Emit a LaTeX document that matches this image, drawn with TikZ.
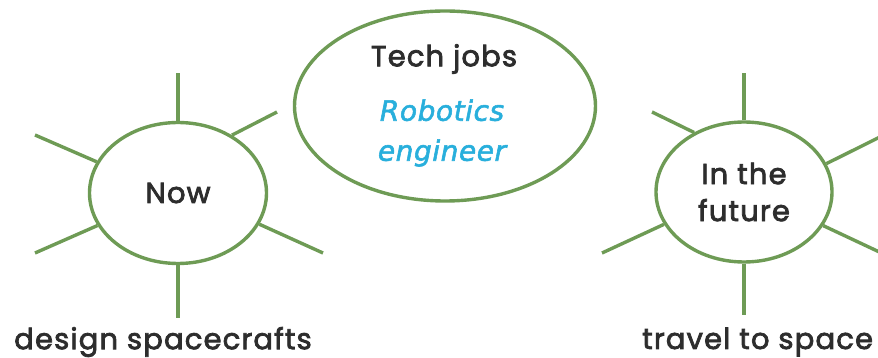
\documentclass[tikz,border=0pt]{standalone}
\usepackage{fontspec}
\setmainfont{Poppins}[LetterSpace=4, BoldFont=Poppins, BoldFeatures={FakeBold=2.6}]
\newfontfamily\handfont{DejaVu Sans}[LetterSpace=2, ItalicFeatures={FakeBold=2}]
\usetikzlibrary{shapes.geometric}
\definecolor{leaf}{RGB}{110,155,85}
\definecolor{ink}{RGB}{45,45,45}
\definecolor{sky}{RGB}{40,175,220}
\tikzset{
  bubble/.style={ellipse, draw=leaf, line width=3.4pt, fill=white, inner sep=0pt, text=ink, align=center},
  spoke/.style={draw=leaf, line width=3.4pt},
  lbl/.style={text=ink, font=\bfseries\fontsize{29}{30}\selectfont, inner sep=0pt}
}
\begin{document}
\begin{tikzpicture}[x=1pt,y=-1pt]
\useasboundingbox (0,0) rectangle (878,358);
\clip (0,0) rectangle (878,358);
% Now
\node[bubble, minimum width=177, minimum height=141, font=\bfseries\fontsize{29}{30}\selectfont] (now) at (178,193) {Now};
\coordinate (n1) at (178,73);
\coordinate (n2) at (35,135);
\coordinate (n3) at (277,112);
\coordinate (n4) at (35,253);
\coordinate (n5) at (323,253);
\coordinate (n6) at (178,318);
\draw[spoke] (now.90) -- (n1);
\draw[spoke] (now.159.5) -- (n2);
\draw[spoke] (now.47.5) -- (n3);
\draw[spoke] (now.202) -- (n4);
\draw[spoke] (now.339) -- (n5);
\draw[spoke] (now.270) -- (n6);
% Future
\node[bubble, minimum width=176, minimum height=140, font=\bfseries\fontsize{29}{37}\selectfont] (fut) at (744,192) {In the\\future};
\coordinate (f1) at (744,73);
\coordinate (f2) at (652,112);
\coordinate (f3) at (890,132);
\coordinate (f4) at (602,253);
\coordinate (f5) at (890,257);
\coordinate (f6) at (744,315);
\draw[spoke] (fut.90) -- (f1);
\draw[spoke] (fut.130.4) -- (f2);
\draw[spoke] (fut.19.7) -- (f3);
\draw[spoke] (fut.202) -- (f4);
\draw[spoke] (fut.337) -- (f5);
\draw[spoke] (fut.270) -- (f6);
% Centre
\node[bubble, minimum width=301, minimum height=190] (tech) at (445,106) {};
\node[lbl] (tj) at (444,59) {Tech jobs};
\node[text=sky, inner sep=0pt, align=center, font=\handfont\itshape\fontsize{28}{40}\selectfont] (rob) at (442,133) {Robotics\\engineer};
% bottom labels
\node[lbl] (ds) at (163,342) {design spacecrafts};
\node[lbl, anchor=west] (ts) at (642,342) {travel to space};
\end{tikzpicture}
\end{document}
